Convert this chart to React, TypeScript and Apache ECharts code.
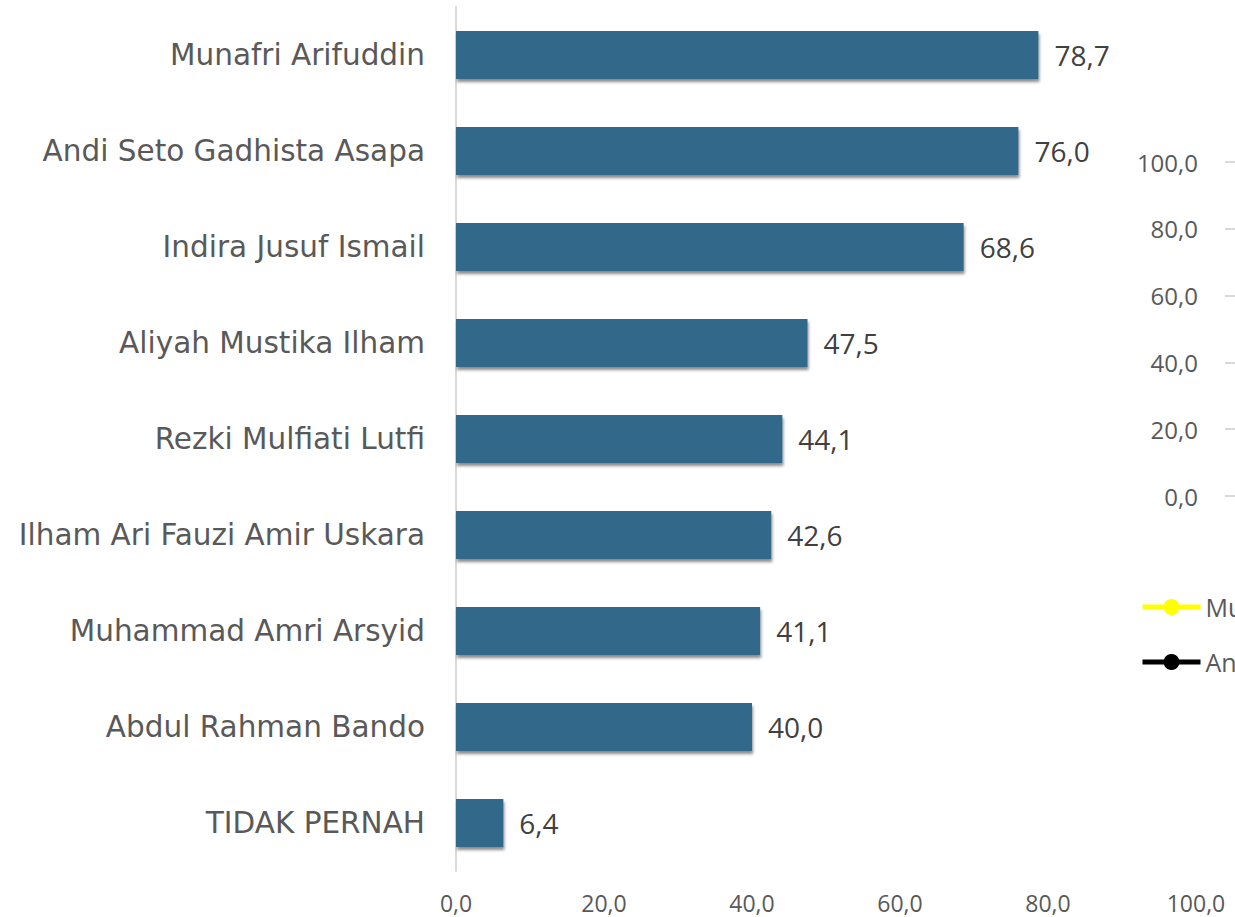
import React, { useEffect, useRef } from "react";
import * as echarts from "echarts";

const categories = [
  "Munafri Arifuddin",
  "Andi Seto Gadhista Asapa",
  "Indira Jusuf Ismail",
  "Aliyah Mustika Ilham",
  "Rezki Mulfiati Lutfi",
  "Ilham Ari Fauzi Amir Uskara",
  "Muhammad Amri Arsyid",
  "Abdul Rahman Bando",
  "TIDAK PERNAH",
];
const values = [78.7, 76.0, 68.6, 47.5, 44.1, 42.6, 41.1, 40.0, 6.4];
const lineSeriesNames = ["Munafri Arifuddin", "Andi Seto Gadhista Asapa"];
const lineSeriesColors = ["#FFFF00", "#000000"];
const lineSeriesA: number[] = [];
const lineSeriesB: number[] = [];
const lineCategories: string[] = [];

const FONT = "'Open Sans', sans-serif";
const LABEL_FONT = "'DejaVu Sans', sans-serif";
const fmt = (v: number) => v.toFixed(1).replace(".", ",");

export default function App() {
  const ref = useRef<HTMLDivElement>(null);
  useEffect(() => {
    const chart = echarts.init(ref.current!, null, { renderer: "svg" });
    chart.setOption({
      animation: false,
      backgroundColor: "#ffffff",
      textStyle: { fontFamily: FONT },
      grid: [
        { left: 456, right: 39, top: 7, bottom: 46 },
        { left: 1236, top: 162, height: 334, width: 100 },
      ],
      legend: {
        orient: "vertical",
        left: 1135,
        top: 586,
        itemGap: 23,
        itemWidth: 58,
        itemHeight: 20,
        data: lineSeriesNames,
        lineStyle: { width: 5 },
        textStyle: { fontFamily: FONT, fontSize: 25, color: "#595959", lineHeight: 32 },
      },
      xAxis: [
        {
          type: "value",
          gridIndex: 0,
          min: 0,
          max: 100,
          interval: 20,
          axisLine: { show: false },
          axisTick: { show: false },
          splitLine: { show: false },
          axisLabel: {
            formatter: (v: number) => fmt(v),
            fontFamily: FONT,
            fontSize: 23,
            color: "#595959",
            margin: 20,
          },
        },
        {
          type: "category",
          gridIndex: 1,
          data: lineCategories,
          show: false,
        },
      ],
      yAxis: [
        {
          type: "category",
          gridIndex: 0,
          data: categories,
          inverse: true,
          axisLine: { show: true, lineStyle: { color: "#d9d9d9", width: 2 } },
          axisTick: { show: false },
          axisLabel: {
            fontFamily: LABEL_FONT,
            fontSize: 29.5,
            color: "#595959",
            margin: 31,
          },
        },
        {
          type: "value",
          gridIndex: 1,
          min: 0,
          max: 100,
          interval: 20,
          position: "left",
          axisLine: { show: false },
          axisTick: { show: true, length: 11, lineStyle: { color: "#d9d9d9", width: 2 } },
          splitLine: { show: false },
          axisLabel: {
            formatter: (v: number) => fmt(v),
            fontFamily: FONT,
            fontSize: 24,
            color: "#595959",
            margin: 38,
          },
        },
      ],
      series: [
        {
          type: "bar",
          xAxisIndex: 0,
          yAxisIndex: 0,
          data: values,
          barWidth: "50%",
          itemStyle: {
            color: "#31688A",
            shadowColor: "rgba(0,0,0,0.45)",
            shadowOffsetX: 1,
            shadowOffsetY: 3,
            shadowBlur: 3,
          },
          label: {
            show: true,
            position: "right",
            distance: 16,
            formatter: (p: any) => fmt(p.value),
            fontFamily: FONT,
            fontSize: 28,
            color: "#404040",
          },
        },
        {
          type: "line",
          name: lineSeriesNames[0],
          xAxisIndex: 1,
          yAxisIndex: 1,
          data: lineSeriesA,
          color: lineSeriesColors[0],
          symbol: "circle",
          symbolSize: 13,
          lineStyle: { width: 5 },
        },
        {
          type: "line",
          name: lineSeriesNames[1],
          xAxisIndex: 1,
          yAxisIndex: 1,
          data: lineSeriesB,
          color: lineSeriesColors[1],
          symbol: "circle",
          symbolSize: 13,
          lineStyle: { width: 5 },
        },
      ],
    });
    return () => chart.dispose();
  }, []);
  return (
    <div
      ref={ref}
      style={{ position: "fixed", left: 0, top: 0, width: 1235, height: 917 }}
    />
  );
}
